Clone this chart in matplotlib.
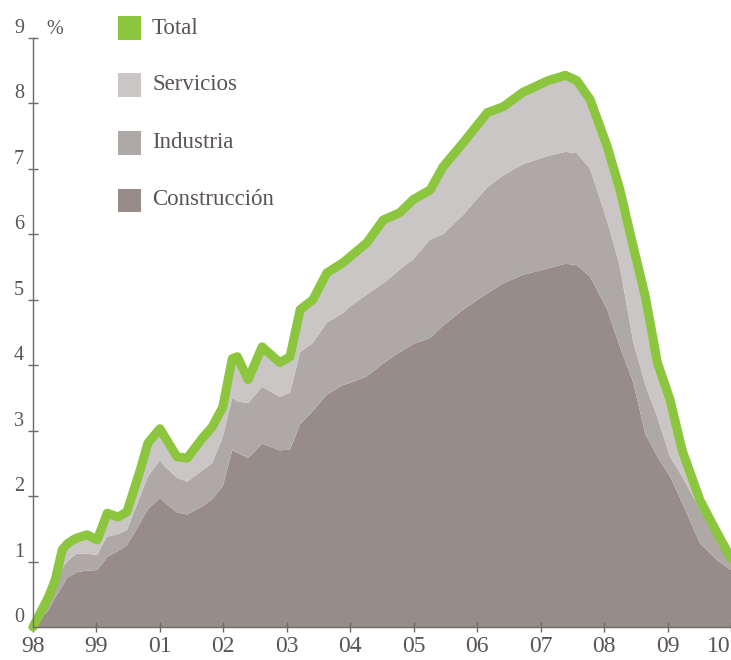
import matplotlib
matplotlib.use("Agg")
import matplotlib.pyplot as plt
from matplotlib.patches import Rectangle
import numpy as np

# years since start of 1998 (tick index)
t = [0.00, 0.24, 0.35, 0.46, 0.54, 0.63, 0.69, 0.85, 1.01, 1.09, 1.17, 1.34, 1.48,
     1.69, 1.81, 2.00, 2.08, 2.27, 2.43, 2.68, 2.82, 2.99, 3.14, 3.22, 3.39, 3.61,
     3.89, 4.05, 4.21, 4.41, 4.63, 4.89, 5.00, 5.26, 5.52, 5.78, 5.99, 6.26, 6.46,
     6.78, 7.16, 7.41, 7.72, 8.12, 8.39, 8.57, 8.78, 9.05, 9.25, 9.46, 9.65, 9.84,
     10.04, 10.23, 10.51, 10.78, 11.00]

total = [0.00, 0.45, 0.72, 1.18, 1.27, 1.33, 1.36, 1.41, 1.33, 1.53, 1.74, 1.68, 1.76,
         2.40, 2.81, 3.03, 2.90, 2.60, 2.58, 2.90, 3.05, 3.36, 4.10, 4.13, 3.78, 4.28,
         4.04, 4.13, 4.85, 5.00, 5.41, 5.57, 5.66, 5.87, 6.22, 6.33, 6.53, 6.68, 7.03,
         7.40, 7.86, 7.95, 8.17, 8.35, 8.43, 8.35, 8.06, 7.34, 6.68, 5.81, 5.05, 4.04,
         3.47, 2.70, 1.94, 1.44, 1.05]

construccion = [0.00, 0.25, 0.45, 0.62, 0.76, 0.80, 0.84, 0.86, 0.87, 0.97, 1.07, 1.16, 1.25,
                1.59, 1.80, 1.97, 1.90, 1.75, 1.72, 1.85, 1.95, 2.15, 2.70, 2.66, 2.58, 2.80,
                2.70, 2.71, 3.10, 3.30, 3.55, 3.70, 3.73, 3.83, 4.03, 4.20, 4.32, 4.42, 4.60,
                4.85, 5.10, 5.25, 5.38, 5.48, 5.55, 5.53, 5.35, 4.85, 4.28, 3.73, 2.95, 2.60,
                2.30, 1.90, 1.28, 1.02, 0.87]

industria = [0.00, 0.10, 0.10, 0.28, 0.24, 0.28, 0.28, 0.26, 0.23, 0.28, 0.31, 0.26, 0.23,
             0.41, 0.50, 0.58, 0.55, 0.53, 0.50, 0.55, 0.55, 0.75, 0.80, 0.79, 0.84, 0.87,
             0.82, 0.87, 1.10, 1.04, 1.10, 1.10, 1.17, 1.25, 1.22, 1.26, 1.30, 1.50, 1.40,
             1.45, 1.62, 1.65, 1.69, 1.72, 1.71, 1.71, 1.65, 1.35, 1.22, 0.62, 0.75, 0.60,
             0.30, 0.40, 0.52, 0.33, 0.15]

servicios = [0.00, 0.10, 0.17, 0.28, 0.27, 0.25, 0.24, 0.29, 0.23, 0.28, 0.36, 0.26, 0.28,
             0.40, 0.51, 0.48, 0.45, 0.32, 0.36, 0.50, 0.55, 0.46, 0.60, 0.68, 0.36, 0.61,
             0.52, 0.55, 0.65, 0.66, 0.76, 0.77, 0.76, 0.79, 0.97, 0.87, 0.91, 0.76, 1.03,
             1.10, 1.14, 1.05, 1.10, 1.15, 1.17, 1.11, 1.06, 1.14, 1.18, 1.46, 1.35, 0.84,
             0.87, 0.40, 0.14, 0.09, 0.03]

xlabels = ["98", "99", "01", "02", "03", "04", "05", "06", "07", "08", "09", "10"]
yticks = [0, 1, 2, 3, 4, 5, 6, 7, 8, 9]
series_names = ["Total", "Servicios", "Industria", "Construcción"]

c_total = "#8cc63f"
c_serv = "#cac6c5"
c_ind = "#aea8a6"
c_con = "#978c89"
txt = "#5a5553"
axis_c = "#6e6a69"

W, H = 731, 660
fig = plt.figure(figsize=(W / 100, H / 100), dpi=100)
ax = fig.add_axes([33 / W, 1 - 627 / H, (731 - 33) / W, (627 - 38) / H])

ax.stackplot(t, construccion, industria, servicios,
             colors=[c_con, c_ind, c_serv], linewidth=0)
ax.plot(t, total, color=c_total, lw=6.5, solid_joinstyle="round",
        solid_capstyle="round", clip_on=False, zorder=5)

ax.set_xlim(0, 11)
ax.set_ylim(0, 9)
for s in ["top", "right"]:
    ax.spines[s].set_visible(False)
for s in ["left", "bottom"]:
    ax.spines[s].set_color(axis_c)
    ax.spines[s].set_linewidth(1.0)
    ax.spines[s].set_zorder(6)

ax.set_xticks(range(len(xlabels)))
ax.set_xticklabels(xlabels)
ax.set_yticks(yticks)
ax.set_yticklabels([str(v) for v in yticks])
ax.tick_params(axis="both", direction="inout", length=7, width=1.0, color=axis_c,
               labelcolor=txt)
ax.tick_params(axis="x", labelsize=17, pad=3)
ax.tick_params(axis="y", labelsize=14.5, pad=3)
for lab in ax.get_xticklabels() + ax.get_yticklabels():
    lab.set_family("Liberation Serif")
plt.setp(ax.get_yticklabels(), va="bottom")
xl = ax.get_xticklabels()
xl[-1].set_ha("right")

fig.text(46 / W, 1 - 39 / H, "%", fontsize=14.5, color=txt, family="Liberation Serif",
         va="bottom", ha="left")

# legend
leg_colors = [c_total, c_serv, c_ind, c_con]
leg_y = [28, 85, 143, 200]
for name, col, yc in zip(series_names, leg_colors, leg_y):
    fig.patches.append(Rectangle((118 / W, 1 - (yc + 11.5) / H), 23 / W, 23 / H,
                                 transform=fig.transFigure, facecolor=col,
                                 edgecolor="none"))
    fig.text(152 / W, 1 - yc / H, name, fontsize=16.5, color=txt,
             family="Liberation Serif", va="center", ha="left")

fig.savefig("out.png", dpi=100)
